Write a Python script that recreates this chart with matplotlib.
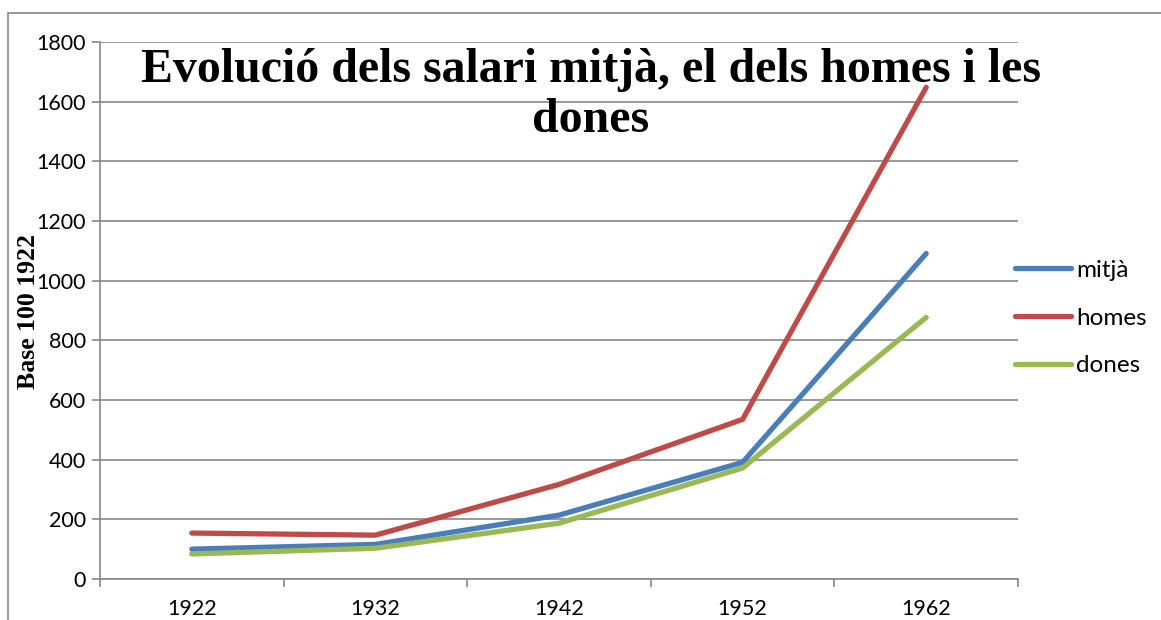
import matplotlib.pyplot as plt
from matplotlib.patches import Rectangle

years = ['1922', '1932', '1942', '1952', '1962']
mitja = [100, 116, 214, 391, 1091]
homes = [154, 147, 317, 535, 1648]
dones = [84, 103, 187, 372, 877]

W, H = 1161, 620
fig = plt.figure(figsize=(W / 100, H / 100), dpi=100)

# outer chart border (bottom is cut off in the reference)
fig.patches.append(Rectangle((8 / W, -0.1), 1.2, (H - 13) / H + 0.1,
                             transform=fig.transFigure, fill=False,
                             edgecolor='#888888', linewidth=1.2))

ax = fig.add_axes([100 / W, 41 / H, 918 / W, 537 / H])
x = range(len(years))
ax.plot(x, mitja, color='#4A7EBB', lw=3.8, label='mitjà', solid_capstyle='round')
ax.plot(x, homes, color='#BE4B48', lw=3.8, label='homes', solid_capstyle='round')
ax.plot(x, dones, color='#98B954', lw=3.8, label='dones', solid_capstyle='round')

ax.set_xlim(-0.5, len(years) - 0.5)
ax.set_ylim(0, 1800)
ax.set_yticks(range(0, 1801, 200))
ax.set_xticks(list(x))
ax.set_xticklabels(years)
ax.set_xticks([i - 0.5 for i in range(len(years) + 1)], minor=True)
ax.tick_params(axis='x', which='major', length=0, pad=14.5, labelsize=15.5)
ax.tick_params(axis='x', which='minor', length=6, direction='out', color='#888888', width=1.2)
ax.tick_params(axis='y', length=6, direction='out', color='#888888', width=1.2, labelsize=15.5, pad=4)
for lab in ax.get_xticklabels() + ax.get_yticklabels():
    lab.set_family('Lato')

ax.grid(axis='y', color='#888888', lw=1.2)
ax.set_axisbelow(True)
for s in ['top', 'right']:
    ax.spines[s].set_visible(False)
for s in ['left', 'bottom']:
    ax.spines[s].set_color('#888888')
    ax.spines[s].set_linewidth(1.2)

fig.text(29 / W, 1 - 312 / H, 'Base 100 1922', rotation=90, ha='center', va='center',
         family='Liberation Serif', weight='bold', fontsize=18.5)
fig.text(591 / W, 1 - 95 / H, 'Evolució dels salari mitjà, el dels homes i les\ndones',
         ha='center', va='center', family='Liberation Serif', weight='bold',
         fontsize=34.5, linespacing=1.2)

leg = fig.legend(loc='center left', bbox_to_anchor=(1015 / W, 1 - 318 / H), frameon=False,
                 prop={'family': 'Lato', 'size': 17.5}, handlelength=2.3, handletextpad=0.2,
                 labelspacing=1.1, borderaxespad=0, borderpad=0)

fig.savefig('out.png', dpi=100)
